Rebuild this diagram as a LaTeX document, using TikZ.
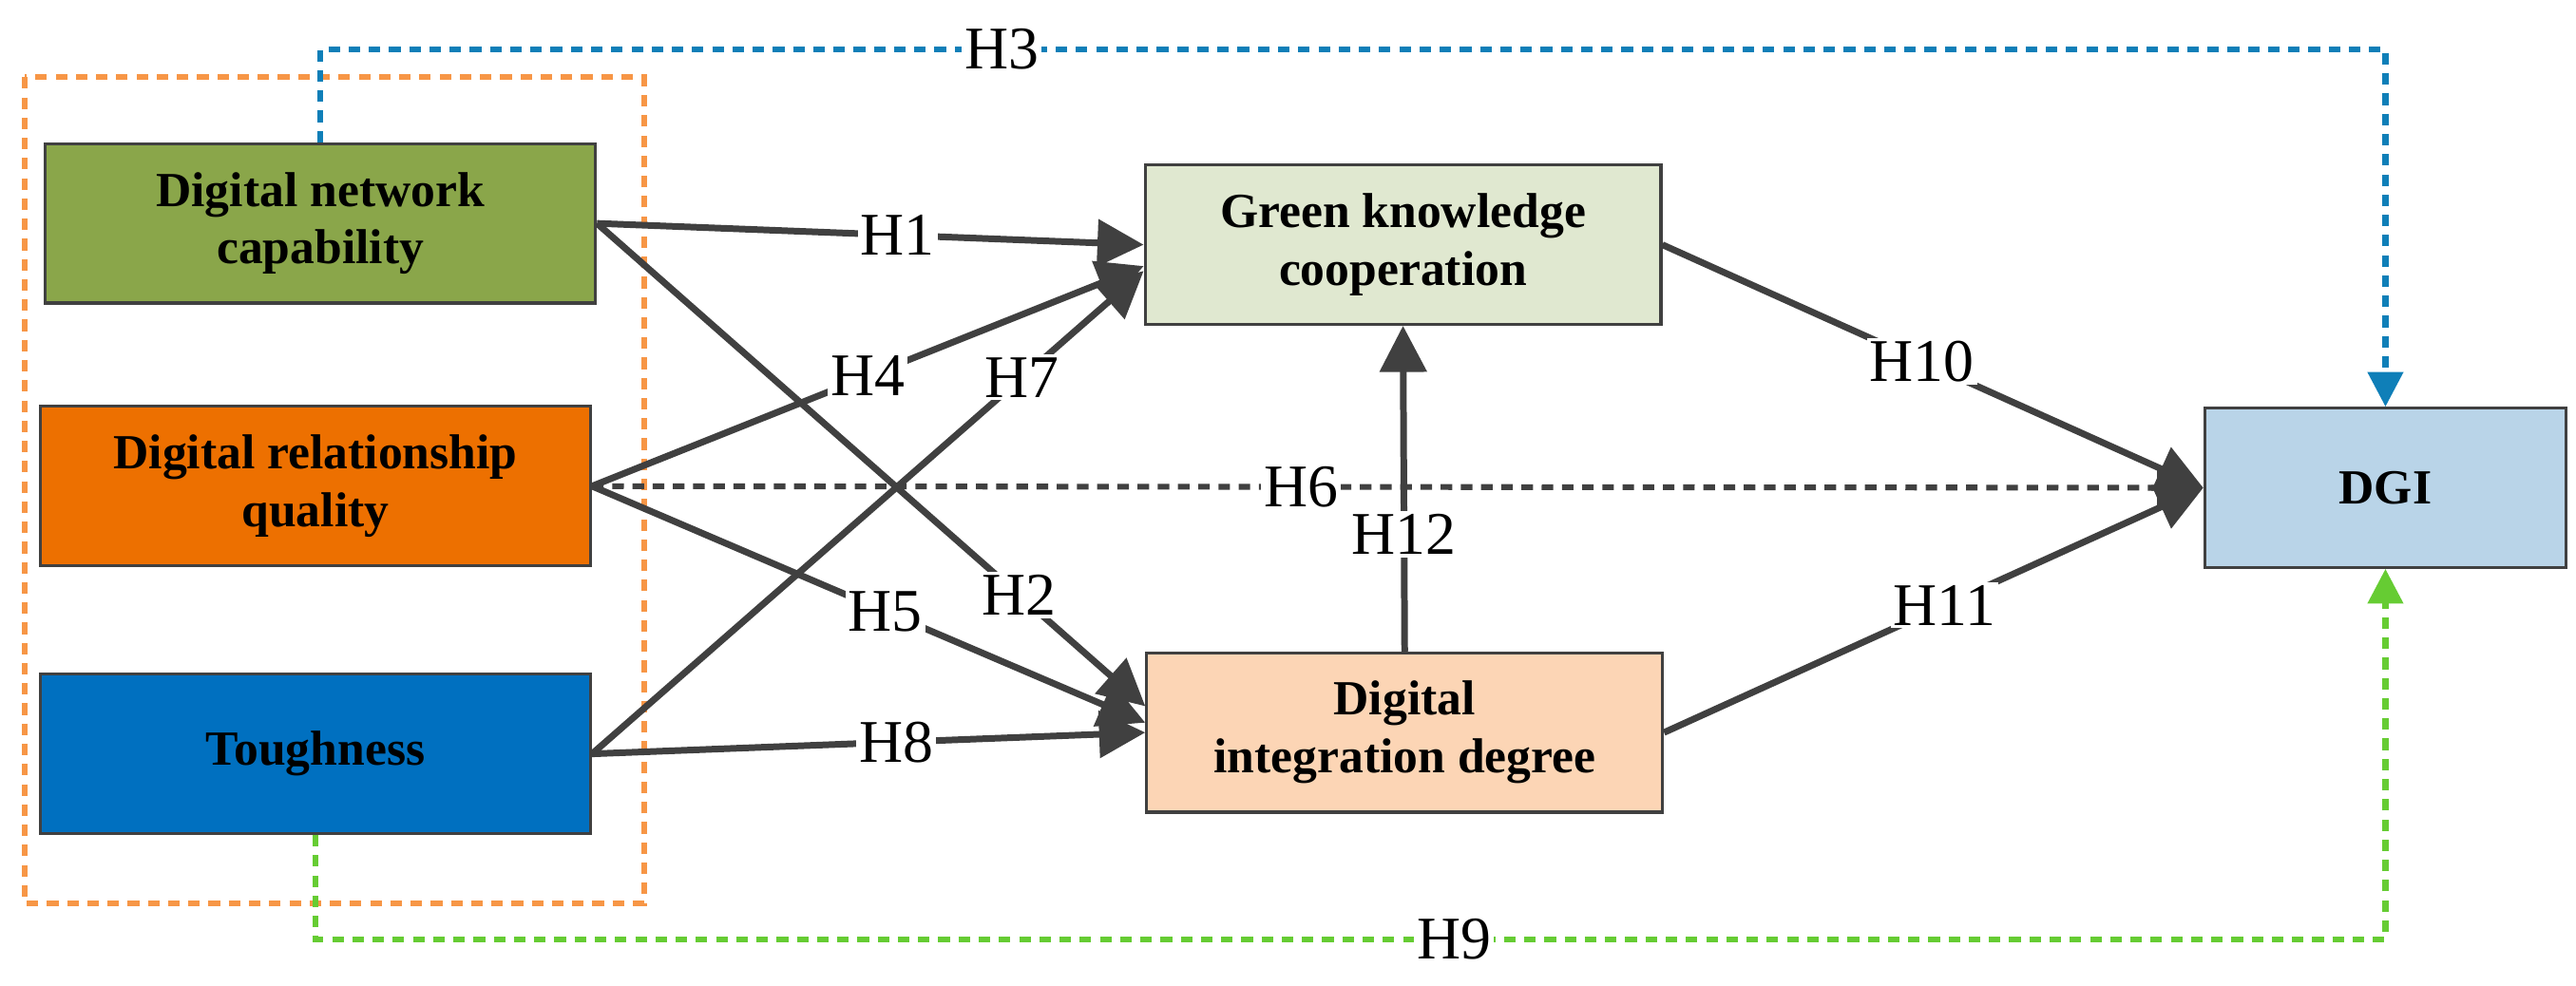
\documentclass[tikz,border=0pt]{standalone}
\usepackage{fontspec}
\setmainfont{Liberation Serif}
\usetikzlibrary{arrows.meta}
\definecolor{ar}{HTML}{404040}
\begin{document}
\begin{tikzpicture}[x=0.02cm,y=-0.02cm,
 box/.style={draw=ar,line width=1pt,minimum width=335*0.02cm,minimum height=97*0.02cm,align=center,font=\fontsize{17}{20}\selectfont\bfseries},
 rbox/.style={box,minimum width=314*0.02cm},
 arr/.style={draw=ar,line width=2.3pt,-{Triangle[length=16pt,width=16pt]}},
 lab/.style={fill=white,inner sep=1pt,font=\fontsize{21}{24}\selectfont},
 dsh/.style={line width=2pt,dash pattern=on 4pt off 3pt}]
\useasboundingbox (0,0) rectangle (1568,600);
\draw[dsh,draw={rgb,255:red,247;green,150;blue,70}] (15,47) rectangle (392,550);
\node[box,fill={rgb,255:red,138;green,166;blue,74}] (a) at (195,136) {Digital network\\capability};
\node[box,fill={rgb,255:red,237;green,112;blue,0}] (b) at (192,296) {Digital relationship\\quality};
\node[box,fill={rgb,255:red,0;green,112;blue,192}] (c) at (192,459) {Toughness};
\node[rbox,fill={rgb,255:red,224;green,232;blue,208}] (g) at (854,149) {Green knowledge\\cooperation};
\node[rbox,fill={rgb,255:red,252;green,213;blue,181}] (d) at (855,446) {Digital\\integration degree};
\node[box,minimum width=220*0.02cm,fill={rgb,255:red,185;green,212;blue,232}] (o) at (1452,297) {DGI};
\coordinate (a1) at (a.north);
\coordinate (c1) at (c.south);
\draw[dsh,draw={rgb,255:red,15;green,127;blue,184},-{Triangle[length=12pt,width=12pt]}] (a1) -- (a1|-0,30) -- node[lab,pos=0.33]{H3} (o.north|-0,30) -- (o.north);
\draw[dsh,draw={rgb,255:red,102;green,204;blue,51},-{Triangle[length=12pt,width=12pt]}] (c1) -- (c1|-0,572) -- node[lab,pos=0.55]{H9} (o.south|-0,572) -- (o.south);
\draw[dsh,draw=ar,-{Triangle[length=16pt,width=16pt]}] (b.east) -- node[lab,pos=0.44]{H6} (o.west);
\draw[arr] (a.east) -- node[lab,pos=0.55]{H1} (g.west);
\draw[arr] (b.east) -- node[lab,pos=0.5]{H4} ([yshift=-13*0.02cm]g.west);
\draw[arr] (c.east) -- node[lab,pos=0.78]{H7} ([yshift=-16*0.02cm]g.west);
\draw[arr] (a.east) -- node[lab,pos=0.77]{H2} ([yshift=16*0.02cm]d.west);
\draw[arr] (b.east) -- node[lab,pos=0.53]{H5} ([yshift=6*0.02cm]d.west);
\draw[arr] (c.east) -- node[lab,pos=0.55]{H8} (d.west);
\draw[arr] (d.north) -- node[lab,pos=0.36]{H12} (g.south);
\draw[arr] (g.east) -- node[lab,pos=0.48]{H10} (o.west);
\draw[arr] (d.east) -- node[lab,pos=0.52]{H11} (o.west);
\end{tikzpicture}
\end{document}
